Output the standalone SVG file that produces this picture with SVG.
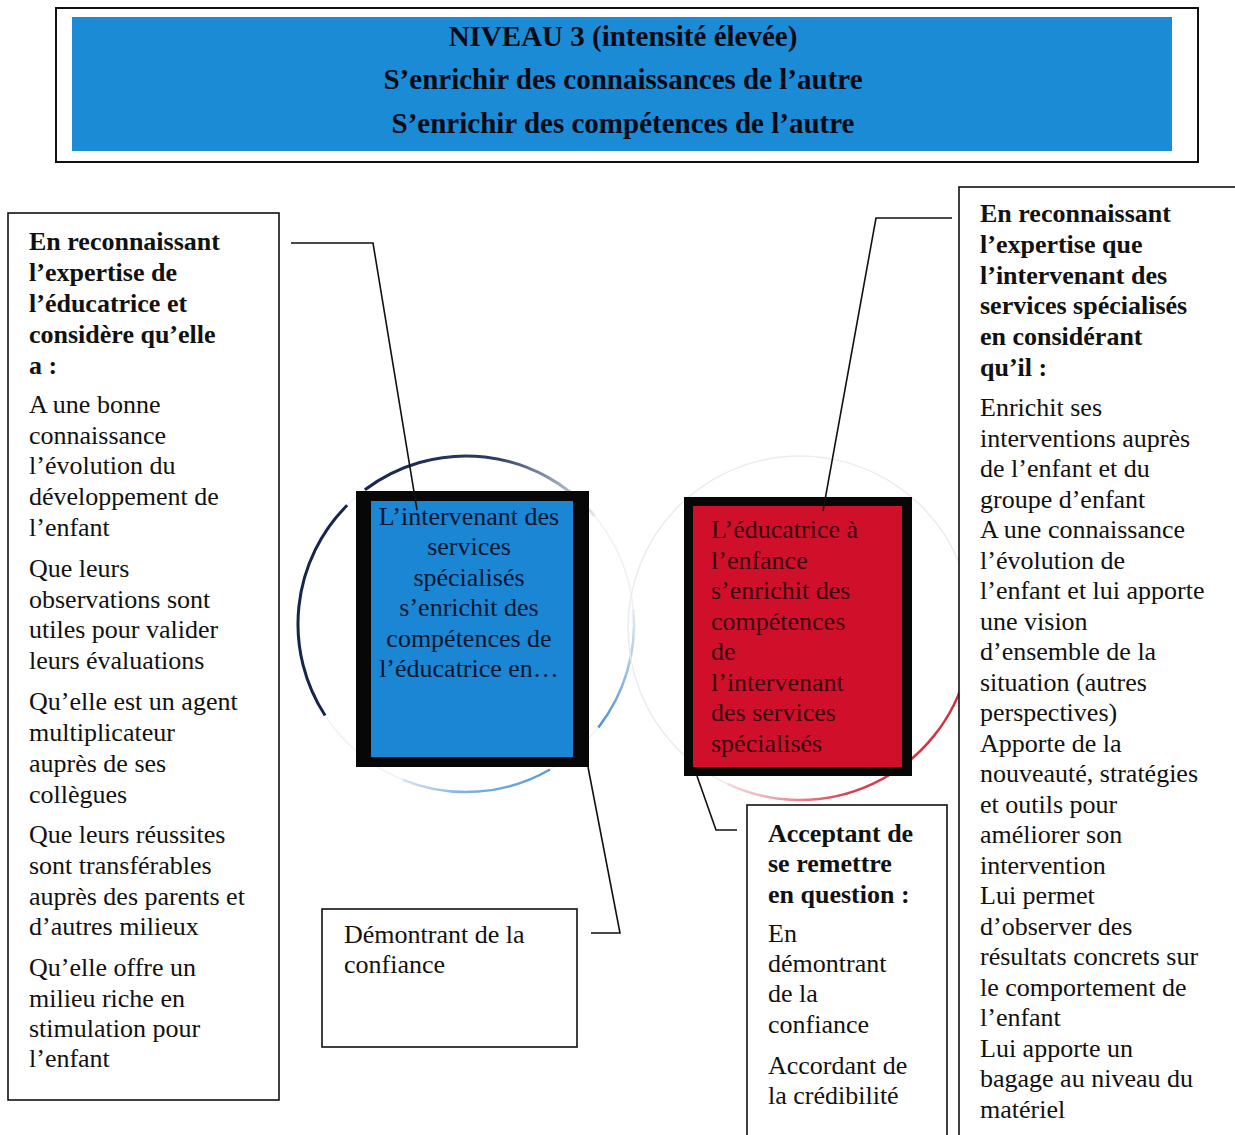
<svg xmlns="http://www.w3.org/2000/svg" width="1235" height="1135" viewBox="0 0 1235 1135">
<defs>
<style>
.t{font-family:"Liberation Serif","Times New Roman",serif;font-size:26px;fill:#111}
.b{font-weight:bold}
.box{fill:#fff;stroke:#111;stroke-width:1.6}
.con{fill:none;stroke:#111;stroke-width:1.6}
.title{font-family:"Liberation Serif","Times New Roman",serif;font-size:29px;font-weight:bold;fill:#0a0a14;text-anchor:middle}
</style>
<linearGradient id="gB" gradientUnits="userSpaceOnUse" x1="365" y1="490" x2="595" y2="516">
<stop offset="0" stop-color="#15264a"/><stop offset="0.55" stop-color="#2a3d66"/><stop offset="1" stop-color="#e4e8ee"/>
</linearGradient>
<linearGradient id="gC" gradientUnits="userSpaceOnUse" x1="633" y1="609" x2="598" y2="727">
<stop offset="0" stop-color="#e6ecf2"/><stop offset="1" stop-color="#4f92cf"/>
</linearGradient>
<linearGradient id="gD" gradientUnits="userSpaceOnUse" x1="550" y1="770" x2="403" y2="780">
<stop offset="0" stop-color="#5b9bd5"/><stop offset="0.6" stop-color="#7fb2e0"/><stop offset="1" stop-color="#d4e4f3"/>
</linearGradient>
<linearGradient id="gR" gradientUnits="userSpaceOnUse" x1="966" y1="672" x2="727" y2="784">
<stop offset="0" stop-color="#d42a3c"/><stop offset="0.6" stop-color="#d8404f"/><stop offset="1" stop-color="#f6dade"/>
</linearGradient>
</defs>

<g id="title">
<rect x="56" y="8" width="1142" height="154" fill="#fff" stroke="#111" stroke-width="2"/>
<rect x="72" y="17" width="1100" height="134" fill="#1c8bd6"/>
<text class="title" x="623" y="46">NIVEAU 3 (intensité élevée)</text>
<text class="title" x="623" y="89">S’enrichir des connaissances de l’autre</text>
<text class="title" x="623" y="133">S’enrichir des compétences de l’autre</text>
</g>

<g id="circles">
<circle cx="466" cy="624" r="168" fill="none" stroke="#eef1f5" stroke-width="1.5"/>
<path d="M325.1 715.5 A168 168 0 0 1 347.2 505.2" fill="none" stroke="#15264a" stroke-width="3"/>
<path d="M364.9 489.8 A168 168 0 0 1 594.7 516" fill="none" stroke="url(#gB)" stroke-width="3"/>
<path d="M633.4 609.4 A168 168 0 0 1 598.4 727.4" fill="none" stroke="url(#gC)" stroke-width="2.5"/>
<path d="M550 769.5 A168 168 0 0 1 403.1 779.8" fill="none" stroke="url(#gD)" stroke-width="2.5"/>
<circle cx="800" cy="628" r="172" fill="none" stroke="#ececee" stroke-width="1.5"/>
<path d="M966.1 672.5 A172 172 0 0 1 727.3 783.9" fill="none" stroke="url(#gR)" stroke-width="2.5"/>
</g>

<g id="node-left">
<rect class="box" x="8" y="213" width="271" height="887"/>
<text class="t b" x="29" y="250">En reconnaissant</text>
<text class="t b" x="29" y="281">l’expertise de</text>
<text class="t b" x="29" y="312">l’éducatrice et</text>
<text class="t b" x="29" y="343">considère qu’elle</text>
<text class="t b" x="29" y="374">a :</text>
<text class="t" x="29" y="413">A une bonne</text>
<text class="t" x="29" y="444">connaissance</text>
<text class="t" x="29" y="474">l’évolution du</text>
<text class="t" x="29" y="505">développement de</text>
<text class="t" x="29" y="536">l’enfant</text>
<text class="t" x="29" y="577">Que leurs</text>
<text class="t" x="29" y="608">observations sont</text>
<text class="t" x="29" y="638">utiles pour valider</text>
<text class="t" x="29" y="669">leurs évaluations</text>
<text class="t" x="29" y="710">Qu’elle est un agent</text>
<text class="t" x="29" y="741">multiplicateur</text>
<text class="t" x="29" y="772">auprès de ses</text>
<text class="t" x="29" y="803">collègues</text>
<text class="t" x="29" y="843">Que leurs réussites</text>
<text class="t" x="29" y="874">sont transférables</text>
<text class="t" x="29" y="905">auprès des parents et</text>
<text class="t" x="29" y="935">d’autres milieux</text>
<text class="t" x="29" y="976">Qu’elle offre un</text>
<text class="t" x="29" y="1007">milieu riche en</text>
<text class="t" x="29" y="1037">stimulation pour</text>
<text class="t" x="29" y="1067">l’enfant</text>
</g>

<g id="node-blue">
<rect x="356" y="491" width="233" height="276" fill="#070707"/>
<rect x="371" y="501" width="202" height="256" fill="#1a86d4"/>
<g class="t" style="fill:#0b1730;text-anchor:middle">
<text x="469" y="525">L’intervenant des</text>
<text x="469" y="555">services</text>
<text x="469" y="586">spécialisés</text>
<text x="469" y="616">s’enrichit des</text>
<text x="469" y="647">compétences de</text>
<text x="469" y="677">l’éducatrice en…</text>
</g>
</g>

<g id="node-red">
<rect x="684" y="497" width="228" height="279" fill="#070707"/>
<rect x="693" y="506" width="209" height="261" fill="#d0102a"/>
<g class="t" style="fill:#3a0610">
<text x="711" y="538">L’éducatrice à</text>
<text x="711" y="569">l’enfance</text>
<text x="711" y="599">s’enrichit des</text>
<text x="711" y="630">compétences</text>
<text x="711" y="660">de</text>
<text x="711" y="691">l’intervenant</text>
<text x="711" y="721">des services</text>
<text x="711" y="752">spécialisés</text>
</g>
</g>

<g id="node-demontrant">
<rect class="box" x="322" y="909" width="255" height="138"/>
<text class="t" x="344" y="943">Démontrant de la</text>
<text class="t" x="344" y="973">confiance</text>
</g>

<g id="node-acceptant">
<rect class="box" x="747" y="805" width="200" height="340"/>
<text class="t b" x="768" y="842">Acceptant de</text>
<text class="t b" x="768" y="872">se remettre</text>
<text class="t b" x="768" y="903">en question :</text>
<text class="t" x="768" y="942">En</text>
<text class="t" x="768" y="972">démontrant</text>
<text class="t" x="768" y="1002">de la</text>
<text class="t" x="768" y="1033">confiance</text>
<text class="t" x="768" y="1074">Accordant de</text>
<text class="t" x="768" y="1104">la crédibilité</text>
</g>

<g id="node-right">
<rect class="box" x="959" y="187" width="290" height="960"/>
<text class="t b" x="980" y="222">En reconnaissant</text>
<text class="t b" x="980" y="253">l’expertise que</text>
<text class="t b" x="980" y="284">l’intervenant des</text>
<text class="t b" x="980" y="314">services spécialisés</text>
<text class="t b" x="980" y="345">en considérant</text>
<text class="t b" x="980" y="376">qu’il :</text>
<text class="t" x="980" y="416">Enrichit ses</text>
<text class="t" x="980" y="446.5">interventions auprès</text>
<text class="t" x="980" y="477">de l’enfant et du</text>
<text class="t" x="980" y="507.5">groupe d’enfant</text>
<text class="t" x="980" y="538">A une connaissance</text>
<text class="t" x="980" y="568.5">l’évolution de</text>
<text class="t" x="980" y="599">l’enfant et lui apporte</text>
<text class="t" x="980" y="629.5">une vision</text>
<text class="t" x="980" y="660">d’ensemble de la</text>
<text class="t" x="980" y="690.5">situation (autres</text>
<text class="t" x="980" y="721">perspectives)</text>
<text class="t" x="980" y="751.5">Apporte de la</text>
<text class="t" x="980" y="782">nouveauté, stratégies</text>
<text class="t" x="980" y="812.5">et outils pour</text>
<text class="t" x="980" y="843">améliorer son</text>
<text class="t" x="980" y="873.5">intervention</text>
<text class="t" x="980" y="904">Lui permet</text>
<text class="t" x="980" y="934.5">d’observer des</text>
<text class="t" x="980" y="965">résultats concrets sur</text>
<text class="t" x="980" y="995.5">le comportement de</text>
<text class="t" x="980" y="1026">l’enfant</text>
<text class="t" x="980" y="1056.5">Lui apporte un</text>
<text class="t" x="980" y="1087">bagage au niveau du</text>
<text class="t" x="980" y="1117.5">matériel</text>
</g>

<g id="connectors">
<polyline class="con" points="291,243 373,243 417,510"/>
<polyline class="con" points="588,767 620,933 591,933"/>
<polyline class="con" points="952,218 876,218 823,511"/>
<polyline class="con" points="697,776 716,830 737,830"/>
</g>
</svg>
